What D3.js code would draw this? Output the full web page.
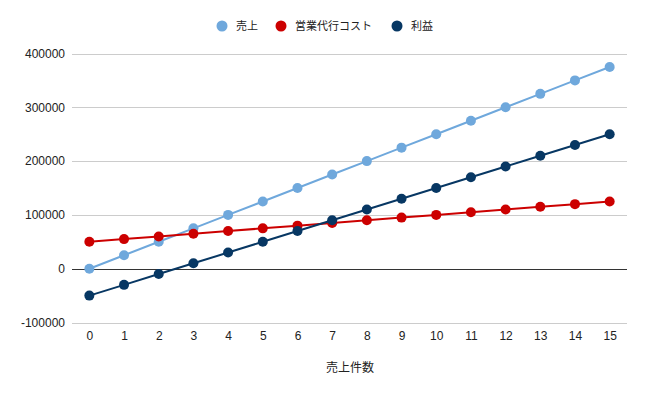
<!DOCTYPE html>
<html>
<head>
<meta charset="utf-8">
<script src="https://cdn.jsdelivr.net/npm/d3@7"></script>
<style>
body { margin: 0; background: #fff; }
text { font-family: Arial, "Liberation Sans", "Noto Sans CJK JP", sans-serif; }
</style>
</head>
<body>
<svg id="chart" width="647" height="395"></svg>
<script>
// data
const counts = [0, 1, 2, 3, 4, 5, 6, 7, 8, 9, 10, 11, 12, 13, 14, 15];
const sales = [0, 25000, 50000, 75000, 100000, 125000, 150000, 175000, 200000, 225000, 250000, 275000, 300000, 325000, 350000, 375000];
const cost = [50000, 55000, 60000, 65000, 70000, 75000, 80000, 85000, 90000, 95000, 100000, 105000, 110000, 115000, 120000, 125000];
const profit = [-50000, -30000, -10000, 10000, 30000, 50000, 70000, 90000, 110000, 130000, 150000, 170000, 190000, 210000, 230000, 250000];
const yTicks = [-100000, 0, 100000, 200000, 300000, 400000];

const seriesNames = ["売上", "営業代行コスト", "利益"];
const seriesColors = ["#6fa8dc", "#cc0000", "#073763"];
const seriesValues = [sales, cost, profit];

const svg = d3.select("#chart");
const plotLeft = 72, plotRight = 627, plotTop = 53.5, plotBottom = 322.5;

const x = d3.scalePoint().domain(counts).range([plotLeft, plotRight]).padding(0.5);
const y = d3.scaleLinear().domain([-100000, 400000]).range([plotBottom, plotTop]);

//gridlines
svg.append("g")
    .selectAll("line")
    .data(yTicks)
    .join("line")
    .attr("x1", plotLeft).attr("x2", plotRight)
    .attr("y1", d => Math.round(y(d)) + 0.5)
    .attr("y2", d => Math.round(y(d)) + 0.5)
    .attr("stroke", d => d === 0 ? "#333333" : "#cccccc")
    .attr("stroke-width", 1);

//y axis labels
const yAxis = svg.append("g")
    .attr("transform", "translate(" + plotLeft + ",0)")
    .call(d3.axisLeft(y).tickValues(yTicks).tickSize(0).tickPadding(7).tickFormat(d => String(d)));
yAxis.select(".domain").remove();
yAxis.selectAll("text").attr("font-size", 12).attr("fill", "#222").attr("font-family", "Arial, 'Liberation Sans', sans-serif");

//x axis labels
const xAxis = svg.append("g")
    .attr("transform", "translate(0," + plotBottom + ")")
    .call(d3.axisBottom(x).tickSize(0).tickPadding(9));
xAxis.select(".domain").remove();
xAxis.selectAll("text").attr("font-size", 12).attr("fill", "#222").attr("font-family", "Arial, 'Liberation Sans', sans-serif");

//x axis title
svg.append("text")
    .attr("x", 350).attr("y", 372)
    .attr("text-anchor", "middle")
    .attr("font-size", 12)
    .attr("fill", "#222")
    .text("売上件数");

//series
const line = d3.line().x((d, i) => x(counts[i])).y(d => y(d));
seriesValues.forEach((vals, k) => {
    const g = svg.append("g");
    g.append("path")
        .datum(vals)
        .attr("d", line)
        .attr("fill", "none")
        .attr("stroke", seriesColors[k])
        .attr("stroke-width", 2);
    g.selectAll("circle")
        .data(vals)
        .join("circle")
        .attr("cx", (d, i) => x(counts[i]))
        .attr("cy", d => y(d))
        .attr("r", 5)
        .attr("fill", seriesColors[k]);
});

//legend
const legendX = [222, 281, 397];
const legend = svg.append("g");
seriesNames.forEach((name, k) => {
    legend.append("circle")
        .attr("cx", legendX[k]).attr("cy", 26).attr("r", 5.5)
        .attr("fill", seriesColors[k]);
    legend.append("text")
        .attr("x", legendX[k] + 14).attr("y", 30)
        .attr("font-size", 11)
        .attr("fill", "#222")
        .text(name);
});
</script>
</body>
</html>
